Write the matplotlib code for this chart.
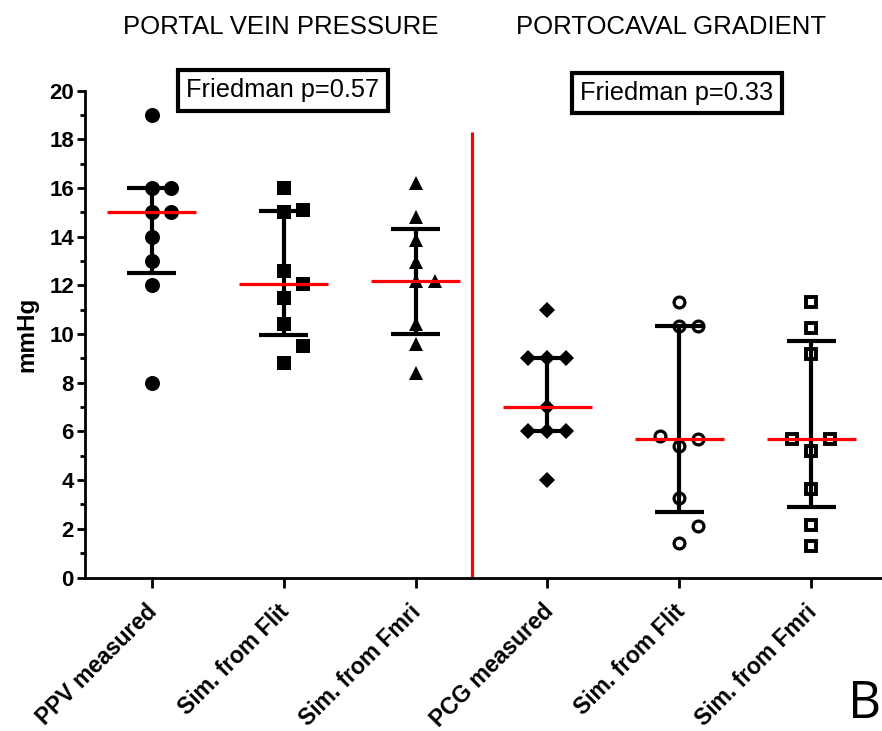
import numpy as np
import matplotlib
matplotlib.use("Agg")
import matplotlib.pyplot as plt
from matplotlib.transforms import ScaledTranslation

plt.rcParams["font.family"] = ["Liberation Sans", "DejaVu Sans"]

# data (mmHg), one list per column
CATEGORIES = ["PPV measured", "Sim. from Flit", "Sim. from Fmri",
              "PCG measured", "Sim. from Flit", "Sim. from Fmri"]
PPV_MEASURED = [8, 12, 13, 14, 15, 15, 16, 16, 19]
PPV_SIM_FLIT = [8.8, 9.5, 10.4, 11.5, 12.05, 12.6, 15.0, 15.1, 16.0]
PPV_SIM_FMRI = [8.4, 9.6, 10.4, 12.2, 12.2, 12.95, 13.85, 14.8, 16.2]
PCG_MEASURED = [4, 6, 6, 6, 7, 9, 9, 9, 11]
PCG_SIM_FLIT = [1.4, 2.1, 3.25, 5.4, 5.7, 5.8, 10.35, 10.35, 11.3]
PCG_SIM_FMRI = [1.3, 2.15, 3.65, 5.2, 5.7, 5.7, 9.2, 10.25, 11.3]
PANEL_TITLES = ["PORTAL VEIN PRESSURE", "PORTOCAVAL GRADIENT"]
FRIEDMAN_P = [0.57, 0.33]

COLUMNS = [PPV_MEASURED, PPV_SIM_FLIT, PPV_SIM_FMRI,
           PCG_MEASURED, PCG_SIM_FLIT, PCG_SIM_FMRI]

# marker, filled?, markersize, edge width
STYLES = [
    ("o", True, 10.8, 0.0),
    ("s", True, 10.3, 0.0),
    ("^", True, 10.5, 0.0),
    ("D", True, 8.3, 0.0),
    ("o", False, 7.8, 2.3),
    ("s", False, 7.6, 2.8),
]


def swarm_offsets(values, px_x, px_y, diam=18.0, step=19.0):
    """Simple beeswarm: centre if free, else right, then left, ..."""
    placed, offs = [], {}
    for idx in np.argsort(values, kind="stable"):
        v = values[idx]
        for k in [0, 1, -1, 2, -2, 3, -3]:
            dx = k * step
            if all((dx - pdx) ** 2 + ((v - pv) * px_y) ** 2 >= diam ** 2
                   for pdx, pv in placed):
                break
        placed.append((dx, v))
        offs[idx] = dx / px_x
    return np.array([offs[i] for i in range(len(values))])


fig = plt.figure(figsize=(8.82, 7.31), dpi=100)
ax = fig.add_axes([85 / 882, 153.5 / 731, 797 / 882, 486.8 / 731])
ax.set_xlim(0.494, 6.537)
ax.set_ylim(0, 20)

bb = ax.get_window_extent()
px_x = bb.width / (6.537 - 0.494)
px_y = bb.height / 20.0

for i, (vals, (mk, filled, ms, mew)) in enumerate(zip(COLUMNS, STYLES), start=1):
    vals = np.asarray(vals, dtype=float)
    xs = i + swarm_offsets(vals, px_x, px_y)
    ax.plot(xs, vals, linestyle="none", marker=mk, markersize=ms,
            markerfacecolor="black" if filled else "none",
            markeredgecolor="black", markeredgewidth=mew, zorder=2,
            clip_on=False)
    q1, med, q3 = np.percentile(vals, [25, 50, 75], method="weibull")
    ax.vlines(i, q1, q3, color="black", lw=3.0, zorder=3)
    ax.hlines([q1, q3], i - 0.185, i + 0.185, color="black", lw=3.0, zorder=3)
    ax.hlines(med, i - 0.337, i + 0.337, color="red", lw=2.3, zorder=4)

# separator between the two panels
ax.vlines(3.426, 0, 18.3, color="red", lw=2.3, zorder=1)

for s in ["top", "right"]:
    ax.spines[s].set_visible(False)
for s in ["left", "bottom"]:
    ax.spines[s].set_linewidth(2.0)

ax.set_yticks(np.arange(0, 21, 2))
ax.set_yticks(np.arange(1, 20, 2), minor=True)
ax.tick_params(axis="y", which="major", length=6, width=2, labelsize=16, pad=2)
ax.tick_params(axis="y", which="minor", length=3.5, width=2)
for t in ax.get_yticklabels():
    t.set_fontweight("bold")

ax.set_xticks(range(1, len(CATEGORIES) + 1))
ax.set_xticklabels(CATEGORIES, rotation=45, ha="right", rotation_mode="anchor",
                   fontsize=16.5, fontweight="bold")
ax.tick_params(axis="x", length=7, width=2, pad=10)
shift = ScaledTranslation(-6 / 100, 1 / 100, fig.dpi_scale_trans)
for t in ax.get_xticklabels():
    t.set_transform(t.get_transform() + shift)

ax.set_ylabel("mmHg", fontsize=17.5, fontweight="bold", labelpad=8)

# panel titles and test results
for x, title, p, xb, yb in zip([281 / 882, 671 / 882], PANEL_TITLES, FRIEDMAN_P,
                               [283 / 882, 677 / 882],
                               [1 - 90.5 / 731, 1 - 93 / 731]):
    fig.text(x, 1 - 27 / 731, title, ha="center", va="center", fontsize=18.5)
    fig.text(xb, yb, f"Friedman p={p:.2f}",
             ha="center", va="center", fontsize=18.3,
             bbox=dict(boxstyle="square,pad=0.33", fc="white", ec="black", lw=3))

fig.text(865 / 882, 1 / 731, "B", ha="center", va="bottom",
         fontsize=37, family=["Open Sans", "DejaVu Sans"])

fig.savefig("out.png", dpi=100)
